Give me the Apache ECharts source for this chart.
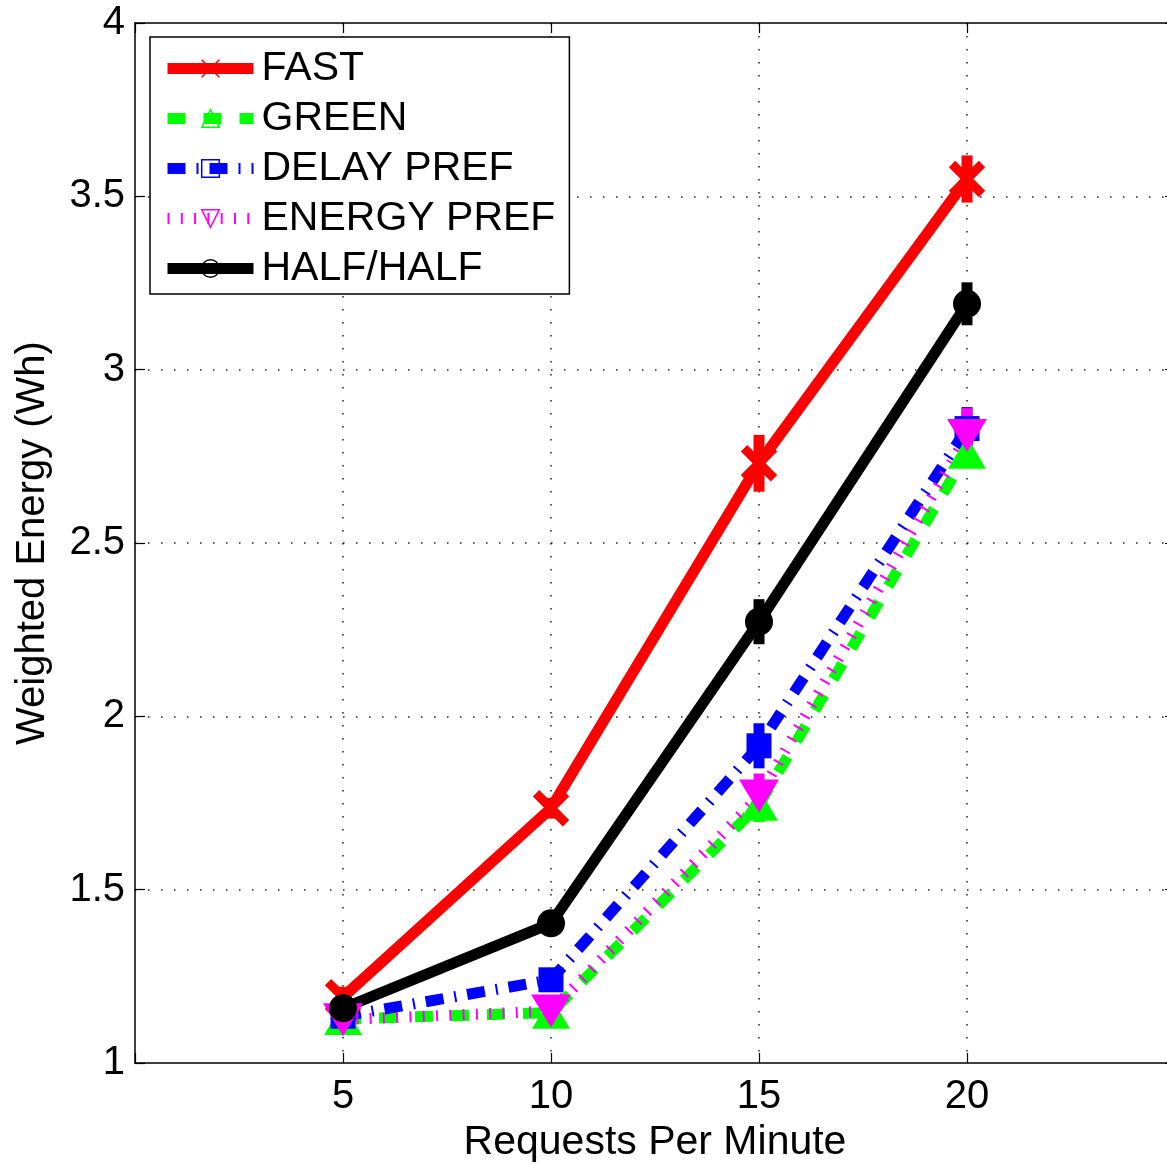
<!DOCTYPE html>
<html>
<head>
<meta charset="utf-8">
<title>Weighted Energy vs Requests Per Minute</title>
<script src="https://cdn.jsdelivr.net/npm/echarts@6/dist/echarts.min.js"></script>
<style>
  html, body { margin: 0; padding: 0; background: #fff; }
  #chart { width: 1167px; height: 1164px; }
</style>
</head>
<body>
<div id="chart"></div>
<script>
// Requests per minute (x) and mean weighted energy in Wh (y) per policy, with error half-widths
const requestsPerMinute = [5, 10, 15, 20];

const fastEnergy       = [1.19, 1.735, 2.73, 3.55];
const fastErr          = [0.03, 0.03, 0.082, 0.068];

const greenEnergy      = [1.127, 1.145, 1.745, 2.76];
const greenErr         = [0.02, 0.03, 0.05, 0.04];

const delayPrefEnergy  = [1.135, 1.24, 1.915, 2.83];
const delayPrefErr     = [0.02, 0.03, 0.065, 0.062];

const energyPrefEnergy = [1.125, 1.15, 1.77, 2.81];
const energyPrefErr    = [0.03, 0.03, 0.065, 0.079];

const halfHalfEnergy   = [1.158, 1.403, 2.273, 3.19];
const halfHalfErr      = [0.03, 0.03, 0.065, 0.062];

const seriesNames = ['FAST', 'GREEN', 'DELAY PREF', 'ENERGY PREF', 'HALF/HALF'];
const xTickValues = [5, 10, 15, 20];

const FONT = '"Liberation Sans", Arial, Helvetica, sans-serif';
const LINE_W = 11;

function pairs(values) {
  return requestsPerMinute.map((x, i) => [x, values[i]]);
}

function lineSeries(name, values, color, dash, symbol, size, extra) {
  return Object.assign({
    type: 'line',
    name: name,
    data: pairs(values),
    symbol: symbol,
    symbolSize: size,
    showSymbol: true,
    lineStyle: { color: color, width: LINE_W, type: dash, cap: 'butt' },
    itemStyle: { color: color, borderColor: color, borderWidth: 0 },
    emphasis: { disabled: true },
    z: 2
  }, extra || {});
}

// Vertical error bars drawn in the series colour
function errorSeries(values, errs, color) {
  return {
    type: 'custom',
    data: requestsPerMinute.map((x, i) => [x, values[i], errs[i]]),
    renderItem: function (params, api) {
      const x = api.value(0), y = api.value(1), e = api.value(2);
      const top = api.coord([x, y + e]);
      const bot = api.coord([x, y - e]);
      return {
        type: 'line',
        shape: { x1: top[0], y1: top[1], x2: bot[0], y2: bot[1] },
        style: { stroke: color, lineWidth: LINE_W, lineCap: 'butt' }
      };
    },
    silent: true,
    z: 2
  };
}

const chart = echarts.init(document.getElementById('chart'), null, { renderer: 'canvas' });

const dottedGrid = { show: true, showMinLine: false, showMaxLine: false,
  lineStyle: { color: '#222', width: 1.5, type: [1.5, 11.5] } };
const axisLineStyle = { show: true, onZero: false, lineStyle: { color: '#000', width: 1.5 } };
const tickStyle = { show: true, inside: true, length: 10, lineStyle: { color: '#000', width: 1.2 } };

chart.setOption({
  animation: false,
  backgroundColor: '#fff',
  grid: { left: 135, top: 23, width: 1040, height: 1040, containLabel: false, outerBoundsMode: 'none' },
  legend: {
    orient: 'vertical',
    left: 150,
    top: 37,
    data: seriesNames,
    itemWidth: 86,
    itemHeight: 22,
    itemGap: 9,
    padding: [11, 14, 5, 12],
    backgroundColor: '#fff',
    borderColor: '#000',
    borderWidth: 1.5,
    borderRadius: 0,
    selectedMode: false,
    textStyle: { fontFamily: FONT, fontSize: 41, color: '#000', lineHeight: 40, padding: [0, 0, 0, 3] },
    lineStyle: { width: 'inherit' },
    itemStyle: { color: 'none', borderColor: 'inherit', borderWidth: 1.5 }
  },
  xAxis: [{
    type: 'value',
    min: 0, max: 25, interval: 5,
    position: 'bottom',
    name: 'Requests Per Minute',
    nameLocation: 'middle',
    nameGap: 55,
    nameTextStyle: { fontFamily: FONT, fontSize: 41, color: '#000' },
    axisLine: axisLineStyle,
    axisTick: tickStyle,
    axisLabel: {
      margin: 14, fontFamily: FONT, fontSize: 40, color: '#000',
      formatter: v => (xTickValues.indexOf(v) >= 0 ? String(v) : '')
    },
    splitLine: dottedGrid
  }, {
    type: 'value',
    min: 0, max: 25, interval: 5,
    position: 'top',
    axisLine: axisLineStyle,
    axisTick: tickStyle,
    axisLabel: { show: false },
    splitLine: { show: false }
  }],
  yAxis: [{
    type: 'value',
    min: 1, max: 4, interval: 0.5,
    position: 'left',
    name: 'Weighted Energy (Wh)',
    nameLocation: 'middle',
    nameGap: 82,
    nameTextStyle: { fontFamily: FONT, fontSize: 40, color: '#000' },
    axisLine: axisLineStyle,
    axisTick: tickStyle,
    axisLabel: { margin: 10, fontFamily: FONT, fontSize: 40, color: '#000' },
    splitLine: dottedGrid
  }, {
    type: 'value',
    min: 1, max: 4, interval: 0.5,
    position: 'right',
    axisLine: axisLineStyle,
    axisTick: tickStyle,
    axisLabel: { show: false },
    splitLine: { show: false }
  }],
  series: [
    lineSeries('FAST', fastEnergy, '#ff0000', 'solid', 'path://M0,0L10,10M10,0L0,10', 30,
      { itemStyle: { color: '#ff0000', borderColor: '#ff0000', borderWidth: 9 } }),
    errorSeries(fastEnergy, fastErr, '#ff0000'),
    lineSeries('GREEN', greenEnergy, '#00ff00', [18, 18], 'triangle', [38, 32]),
    errorSeries(greenEnergy, greenErr, '#00ff00'),
    lineSeries('DELAY PREF', delayPrefEnergy, '#0000ff', [18, 11, 2, 11], 'rect', 25),
    errorSeries(delayPrefEnergy, delayPrefErr, '#0000ff'),
    lineSeries('ENERGY PREF', energyPrefEnergy, '#ff00ff', [2, 11.3], 'triangle', [40, 33],
      { symbolRotate: 180 }),
    errorSeries(energyPrefEnergy, energyPrefErr, '#ff00ff'),
    lineSeries('HALF/HALF', halfHalfEnergy, '#000000', 'solid', 'circle', 28),
    errorSeries(halfHalfEnergy, halfHalfErr, '#000000')
  ]
});
</script>
</body>
</html>
